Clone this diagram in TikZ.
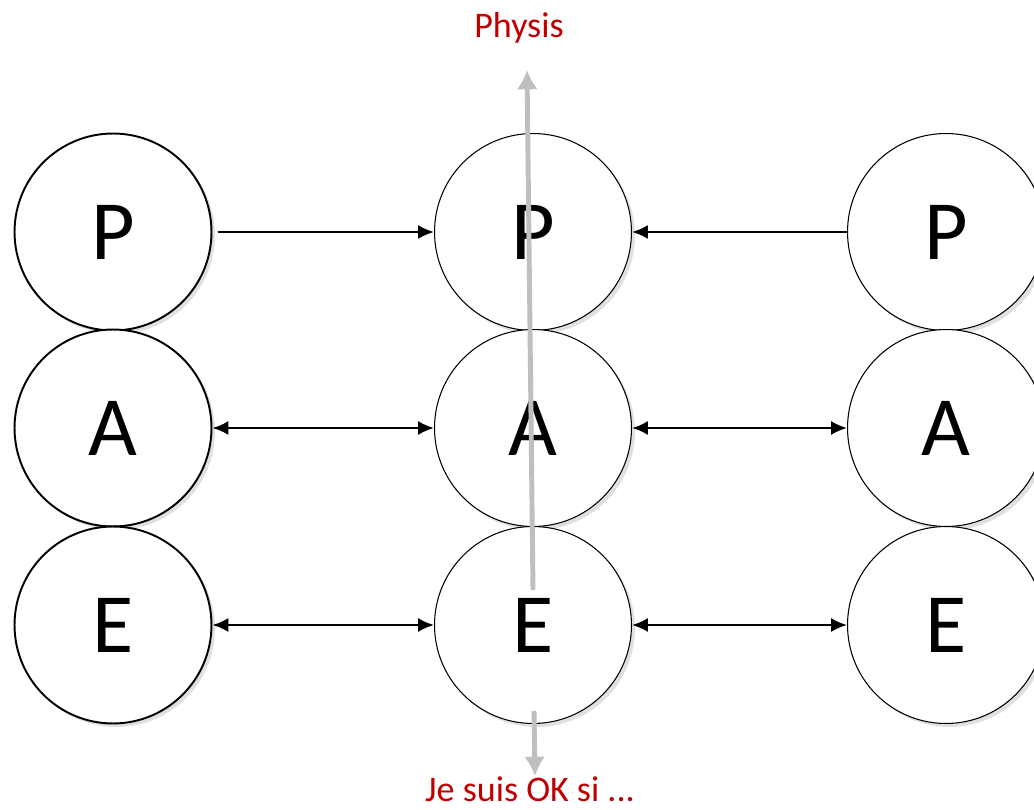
\documentclass[tikz,border=0pt]{standalone}
\usepackage{fontspec}
\setmainfont{Carlito}
\usetikzlibrary{arrows.meta,shadows}
\definecolor{physred}{HTML}{C00000}
\definecolor{axisgray}{HTML}{BFBFBF}
\tikzset{
  letter/.style={circle,draw,fill=white,minimum size=3.94cm,inner sep=0pt,
    font=\fontsize{48}{50}\selectfont,
    drop shadow={shadow xshift=.07cm,shadow yshift=-.07cm,fill=black!12,opacity=1}},
  thick letter/.style={letter,line width=1.1pt},
  link/.style={line width=1.4pt,>={Latex[length=9pt,width=8pt]}},
  axis/.style={axisgray,line width=2.8pt,-{Latex[length=11pt,width=12pt]}},
  caption/.style={physred,font=\fontsize{20.5}{22}\selectfont,anchor=base}
}
\begin{document}
\begin{tikzpicture}[x=0.02cm,y=-0.02cm]
\useasboundingbox (0,0) rectangle (1034,810);
% left column
\node[thick letter] (P1) at (113,232) {P};
\node[thick letter] (A1) at (113,428) {A};
\node[thick letter] (E1) at (113,625) {E};
% middle column
\node[letter,line width=.6pt] (P2) at (533,232) {P};
\node[letter,line width=.6pt] (A2) at (533,428) {A};
\node[letter,line width=.6pt] (E2) at (533,625) {E};
% right column
\node[letter,line width=.6pt] (P3) at (946,232) {P};
\node[letter,line width=.6pt] (A3) at (946,428) {A};
\node[letter,line width=.6pt] (E3) at (946,625) {E};
% links
\draw[link,->,shorten <=3pt] (P1) -- (P2);
\draw[link,<->] (A1) -- (A2);
\draw[link,<->] (E1) -- (E2);
\draw[link,->] (P3) -- (P2);
\draw[link,<->] (A3) -- (A2);
\draw[link,<->] (E3) -- (E2);
% vertical axis
\coordinate (up0) at (533,590);
\coordinate (up1) at (527,70);
\coordinate (dn0) at (534,711);
\coordinate (dn1) at (535,776);
\draw[axis] (up0) -- (up1);
\draw[axis] (dn0) -- (dn1);
\node[caption] (physis) at (519,38) {Physis};
\node[caption] (ok) at (530,801) {Je suis OK si ...};
\end{tikzpicture}
\end{document}
